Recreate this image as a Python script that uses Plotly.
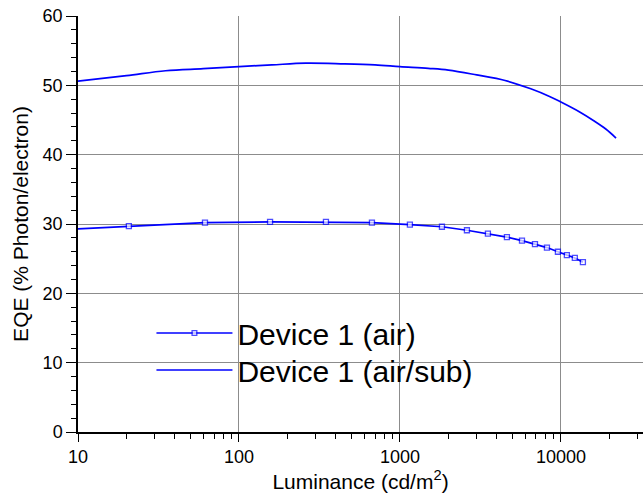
import plotly.graph_objects as go

# Device 1 (air) - with square markers
air_lum = [10, 20.7, 61.5, 156, 347, 670, 1153, 1824, 2607, 3520, 4620, 5730, 6900, 8190, 9580, 10890, 12200, 13700]
air_eqe = [29.3, 29.7, 30.2, 30.3, 30.3, 30.2, 29.9, 29.6, 29.1, 28.6, 28.1, 27.6, 27.1, 26.6, 26.0, 25.5, 25.1, 24.5]

# Device 1 (air/sub) - line only
sub_lum = [10, 20, 35, 60, 100, 160, 260, 450, 700, 1000, 1500, 2000, 3000, 4500, 6500, 8500, 10000, 13000, 16000, 19000, 22000]
sub_eqe = [50.6, 51.4, 52.1, 52.4, 52.7, 52.95, 53.2, 53.1, 52.95, 52.7, 52.45, 52.2, 51.5, 50.7, 49.5, 48.4, 47.6, 46.2, 44.9, 43.7, 42.4]

x_ticks = [10, 100, 1000, 10000]
x_tick_labels = ["10", "100", "1000", "10000"]
x_minor = [m * d for d in [10, 100, 1000, 10000] for m in range(2, 10)]

blue = "#0000ff"
grid = "#8c8c8c"

fig = go.Figure()
fig.add_trace(go.Scatter(
    x=air_lum, y=air_eqe, mode="lines+markers", name="Device 1 (air)",
    legend="legend",
    line=dict(color=blue, width=1.7),
    marker=dict(symbol="square", size=[0] + [5] * (len(air_lum) - 1), color="white",
                line=dict(color=blue, width=1.3)),
))
fig.add_trace(go.Scatter(
    x=sub_lum, y=sub_eqe, mode="lines", name="Device 1 (air/sub)",
    legend="legend2",
    line=dict(color=blue, width=1.7, shape="spline"),
))

leg_common = dict(x=0.13, xanchor="left", yanchor="middle",
                  bgcolor="rgba(0,0,0,0)", font=dict(size=30, color="black"),
                  itemwidth=76)

fig.update_layout(
    width=643, height=493,
    margin=dict(l=78, r=0, t=16, b=61),
    paper_bgcolor="white", plot_bgcolor="white",
    font=dict(family="Liberation Sans, Arial, sans-serif", color="black", size=17),
    showlegend=True,
    legend=dict(y=0.238, **leg_common),
    legend2=dict(y=0.149, **leg_common),
    xaxis=dict(
        type="log", range=[1, 4.51],
        tickvals=x_ticks, ticktext=x_tick_labels,
        showgrid=True, gridcolor=grid, gridwidth=1,
        showline=True, linecolor="black", linewidth=1.5,
        ticks="outside", ticklen=8, tickcolor="black", tickwidth=1.2,
        minor=dict(tickvals=x_minor, ticks="outside", ticklen=5, tickcolor="black", tickwidth=1, showgrid=False),
        zeroline=False,
        title=dict(text="Luminance (cd/m<sup>2</sup>)", font=dict(size=21), standoff=4),
        tickfont=dict(size=18),
    ),
    yaxis=dict(
        range=[0, 60], dtick=10,
        showgrid=True, gridcolor=grid, gridwidth=1,
        showline=True, linecolor="black", linewidth=1.5,
        ticks="outside", ticklen=10, tickcolor="black", tickwidth=1.2,
        minor=dict(dtick=2, ticks="outside", ticklen=5, tickcolor="black", tickwidth=1, showgrid=False),
        zeroline=False,
        title=dict(text="EQE (% Photon/electron)", font=dict(size=21), standoff=8),
        tickfont=dict(size=18),
    ),
)

fig.write_html("out.html")
